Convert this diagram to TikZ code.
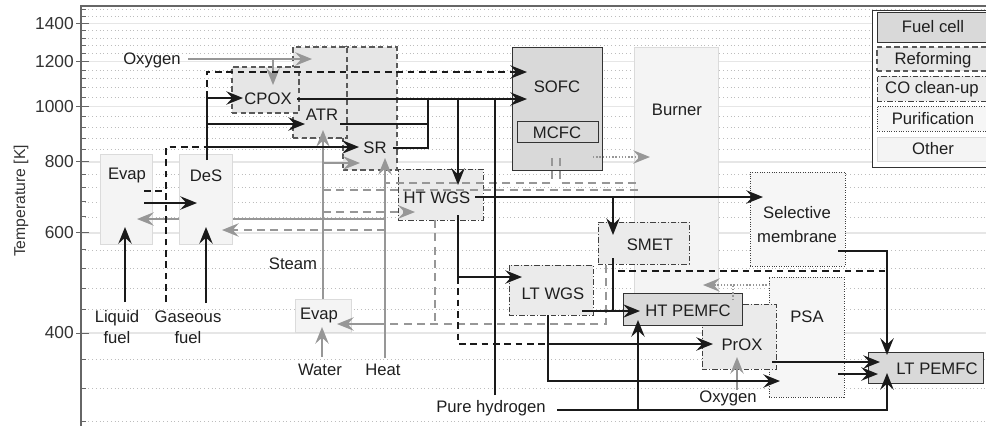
\documentclass[tikz,border=0pt]{standalone}
\usepackage{fontspec}
\setmainfont{Liberation Sans}
\usetikzlibrary{arrows.meta,calc}

\definecolor{fcgray}{HTML}{D9D9D9}
\definecolor{rfgray}{HTML}{E6E6E6}
\definecolor{cogray}{HTML}{EBEBEB}
\definecolor{pugray}{HTML}{F6F6F6}
\definecolor{otgray}{HTML}{F4F4F4}
\definecolor{linek}{HTML}{1A1A1A}
\definecolor{lineg}{HTML}{979797}
\definecolor{gridmaj}{HTML}{E6E6E6}
\definecolor{gridmin}{HTML}{BDBDBD}

\newcommand{\fs}{\fontsize{12.5}{16}\selectfont}
% box from (x1,y1) to (x2,y2), in pixels
\newcommand{\compbox}[6]{%
  \node[#1, minimum width={(#4-#2)*0.75pt}, minimum height={(#5-#3)*0.75pt}] (#6) at ({(#2+#4)/2},{(#3+#5)/2}) {};}

\begin{document}
\begin{tikzpicture}[x=0.75pt, y=-0.75pt,
  tip/.style={-{Stealth[length=12.5pt,width=10pt,inset=4.5pt]}},
  bl/.style={draw=linek, line width=1.6pt},
  bla/.style={bl, tip},
  bld/.style={bl, dash pattern=on 5pt off 3.5pt},
  blda/.style={bld, tip},
  gl/.style={draw=lineg, line width=1.6pt},
  gla/.style={gl, tip},
  gld/.style={gl, dash pattern=on 6pt off 4pt},
  glda/.style={gld, tip},
  glo/.style={gl, line width=1.3pt, dash pattern=on 1pt off 1.4pt},
  gloa/.style={glo, tip},
  fcell/.style={draw=black!80, fill=fcgray, line width=0.75pt, inner sep=0pt},
  reform/.style={draw=black!65, fill=rfgray, line width=0.8pt, dash pattern=on 4pt off 2.5pt, inner sep=0pt},
  cleanup/.style={draw=black!75, fill=cogray, line width=0.6pt, dash pattern=on 4pt off 1.5pt on 0.8pt off 1.5pt, inner sep=0pt},
  purif/.style={draw=black!75, fill=pugray, line width=0.6pt, dash pattern=on 0.6pt off 1.2pt, inner sep=0pt},
  other/.style={draw=black!14, fill=otgray, line width=0.75pt, inner sep=0pt},
  lab/.style={font=\fs, text=black!88, inner sep=0pt, align=center}]
\useasboundingbox (0,0) rectangle (986,426);
\clip (0,0) rectangle (986,426);

% axis and grid
\foreach \T in {280,320,360,440,480,520,560,640,680,720,760,840,880,920,960,1040,1080,1120,1160,1240,1280,1320,1360,1440,1480} {
  \pgfmathsetmacro\yy{333-247*ln(\T/400)}
  \draw[gridmin, line width=0.6pt, dash pattern=on 0.6pt off 2.2pt] (81,\yy) -- (986,\yy);
  \draw[black!60, line width=0.7pt] (81,\yy) -- (86,\yy);
}
\foreach \T in {400,600,800,1000,1200,1400} {
  \pgfmathsetmacro\yy{333-247*ln(\T/400)}
  \draw[gridmaj, line width=1.2pt] (81,\yy) -- (986,\yy);
  \draw[black!60, line width=0.7pt] (76,\yy) -- (89,\yy);
  \node[lab, font=\fontsize{13}{15}\selectfont, text=black!80, anchor=east] (tk\T) at (74,\yy) {\T};
}
\draw[black!60, line width=0.8pt] (81,426) -- (81,6) -- (986,6);
\node[rotate=90, font=\fontsize{11.8}{13}\selectfont, text=black!80] (ylab) at (21,201) {Temperature [K]};

% legend
\compbox{draw=black!80, fill=white, line width=0.75pt, inner sep=0pt}{872}{10}{995}{167}{legbox}
\compbox{fcell}{877}{12}{989}{42}{legfc}
\compbox{reform}{877}{47}{989}{71}{legrf}
\compbox{cleanup}{877}{76}{989}{101}{legco}
\compbox{purif}{877}{106}{989}{131}{legpu}
\compbox{other}{877}{137}{989}{161}{legot}
\node[lab] (legfct) at (933,27) {Fuel cell};
\node[lab] (legrft) at (933,60) {Reforming};
\node[lab] (legcot) at (932,89) {CO clean-up};
\node[lab] (legput) at (933,119) {Purification};
\node[lab] (legott) at (933,149) {Other};

% units
\compbox{other}{100}{154}{152}{244}{evapL}
\compbox{other}{179}{154}{232}{244}{des}
\compbox{reform}{343}{47}{397}{170}{srbox}
\compbox{reform}{293}{47}{347}{138}{atrbox}
\compbox{reform}{232}{67}{299}{113}{cpoxbox}
\compbox{cleanup}{398}{169}{483}{220}{htwgsbox}
\compbox{fcell}{512}{47}{602}{170}{sofcbox}
\compbox{fcell}{517}{121}{598}{142}{mcfcbox}
\compbox{other}{634}{47}{718}{296}{burnerbox}
\compbox{purif}{750}{172}{845}{266}{selbox}
\compbox{cleanup}{598}{222}{689}{264}{smetbox}
\compbox{cleanup}{509}{265}{593}{315}{ltwgsbox}
\compbox{purif}{769}{277}{844}{397}{psabox}
\compbox{cleanup}{702}{304}{776}{369}{proxbox}
\compbox{fcell}{623}{293}{742}{325}{htpembox}
\compbox{fcell}{868}{352}{983}{383}{ltpembox}
\compbox{other}{295}{299}{351}{332}{evapB}

\node[lab] (evapLt) at (127,175) {Evap};
\node[lab] (dest) at (206,176) {DeS};
\node[lab] (cpox) at (268,99) {CPOX};
\node[lab] (atr) at (322,115) {ATR};
\node[lab] (sr) at (375,148) {SR};
\node[lab] (htwgs) at (437,198) {HT WGS};
\node[lab] (sofc) at (557,87) {SOFC};
\node[lab] (mcfc) at (557,133) {MCFC};
\node[lab] (burner) at (677,110) {Burner};
\node[lab, font=\fontsize{12.5}{18}\selectfont] (sel) at (797,225) {Selective\\membrane};
\node[lab] (smet) at (650,245) {SMET};
\node[lab] (ltwgs) at (553,294) {LT WGS};
\node[lab] (psa) at (807,317) {PSA};
\node[lab] (prox) at (742,345) {PrOX};
\node[lab] (htpem) at (688,311) {HT PEMFC};
\node[lab] (ltpem) at (937,369) {LT PEMFC};
\node[lab] (evapBt) at (319,315) {Evap};

% feeds
\node[lab] (oxy1) at (152,60) {Oxygen};
\node[lab] (liq) at (117,327) {Liquid\\fuel};
\node[lab] (gas) at (188,327) {Gaseous\\fuel};
\node[lab] (steam) at (293,264) {Steam};
\node[lab] (water) at (320,370) {Water};
\node[lab] (heat) at (383,370) {Heat};
\node[lab] (pure) at (491,408) {Pure hydrogen};
\node[lab] (oxy2) at (728,398) {Oxygen};

% ports and joints
\coordinate (liq-o) at (125,302);
\coordinate (evapL-i) at (125,227);
\coordinate (gas-o) at (206,303);
\coordinate (des-i) at (206,227);
\coordinate (gasbyp) at (166,302);
\coordinate (evapL-o) at (144,203);
\coordinate (des-w) at (197,203);
\coordinate (evapL-d) at (144,191);
\coordinate (des-o) at (207,160);
\coordinate (cpox-i) at (243,98);
\coordinate (atr-i) at (305,124);
\coordinate (sr-i) at (359,147);
\coordinate (cpox-o) at (297,99);
\coordinate (atr-o) at (340,124);
\coordinate (sr-o) at (393,148);
\coordinate (refjoin) at (428,99);
\coordinate (sofc-i) at (527,99);
\coordinate (sofc-d) at (527,72);
\coordinate (htwgs-i) at (458,185);
\coordinate (htwgs-o) at (475,197);
\coordinate (htwgs-d) at (458,215);
\coordinate (sel-i) at (763,197);
\coordinate (smet-i) at (613,235);
\coordinate (smet-o) at (613,258);
\coordinate (ltwgs-i) at (522,277);
\coordinate (ltwgs-o) at (582,311);
\coordinate (ltwgs-d) at (548,315);
\coordinate (htpem-w) at (640,311);
\coordinate (htpem-s) at (638,320);
\coordinate (prox-i) at (713,344);
\coordinate (psa-i) at (780,381);
\coordinate (prox-o) at (772,362);
\coordinate (psa-o) at (838,374);
\coordinate (sel-o) at (838,251);
\coordinate (ltpem-n) at (887,355);
\coordinate (ltpem-s) at (887,373);
\coordinate (ltpem-w1) at (880,362);
\coordinate (ltpem-w2) at (878,374);
\coordinate (pure-o) at (557,410);
\coordinate (pure-n) at (495,395);
\coordinate (smetbyp) at (618,271);
\coordinate (oxy1-o) at (188,59);
\coordinate (refox-i) at (312,59);
\coordinate (cpoxox-i) at (273,85);
\coordinate (steam-o) at (323,299);
\coordinate (atr-s) at (323,130);
\coordinate (sr-w) at (360,163);
\coordinate (heat-o) at (385,358);
\coordinate (sr-s) at (385,158);
\coordinate (evapL-h) at (137,219);
\coordinate (des-h) at (222,230);
\coordinate (evapB-e) at (337,324);
\coordinate (water-o) at (322,357);
\coordinate (evapB-s) at (322,327);
\coordinate (htwgs-s) at (415,212);
\coordinate (sofc-s1) at (552,158);
\coordinate (sofc-s2) at (560,158);
\coordinate (burner-x) at (639,183);
\coordinate (htwgs-b) at (435,220);
\coordinate (smet-b) at (606,265);
\coordinate (mcfc-o) at (593,157);
\coordinate (burner-i) at (650,157);
\coordinate (psa-g) at (770,285);
\coordinate (burner-g) at (703,285);
\coordinate (prox-g) at (733,300);
\coordinate (prox-oxy) at (737,357);
\coordinate (oxy2-o) at (737,390);

% gray: oxygen, steam, heat, water
\draw[gla] (oxy1-o) -- (refox-i);
\draw[gla] (oxy1-o -| cpoxox-i) -- (cpoxox-i);
\draw[gla] (steam-o) -- (atr-s);
\draw[gla] (steam-o |- sr-w) -- (sr-w);
\draw[gla] (heat-o) -- (sr-s);
\draw[gl] (heat-o |- evapL-h) -- (des.east |- evapL-h);
\draw[gla] (des.west |- evapL-h) -- (evapL-h);
\draw[gla] (heat-o |- evapB-e) -- (evapB-e);
\draw[gla] (water-o) -- (evapB-s);
\draw[gla] (prox-oxy |- oxy2-o) -- (prox-oxy);

% gray dashed: heat recovery
\draw[glda] (heat-o |- des-h) -- (des-h);
\draw[glda] (steam-o |- htwgs-s) -- (htwgs-s);
\draw[gld] (sofc-s1) |- (heat-o |- burner-x);
\draw[gld] (sofc-s2) |- (burner-x);
\draw[gld] ($(steam-o |- burner-x)+(0,7)$) -- ($(burner-x)+(0,7)$);
\draw[gld] (htwgs-b) -- (htwgs-b |- evapB-e);
\draw[gld] (smet-b) |- (heat-o |- evapB-e);

% gray dotted: off-gas to burner
\draw[gloa] (mcfc-o) -- (burner-i);
\draw[gloa] (psa-g) -- (burner-g);
\draw[glo] (prox-g) -- (prox-g |- psa-g);

% black dashed: bypasses
\draw[bld] (gasbyp) |- (des-o |- sr-i);
\draw[bld] (evapL-d) -- (gasbyp |- evapL-d);
\draw[blda] (des-o |- cpox-i) |- (sofc-d);
\draw[bld] (htwgs-d |- ltwgs-i) |- (ltwgs-d |- prox-i);
\draw[bld] (smetbyp) -- (ltpem-n |- smetbyp);

% black: main fuel path
\draw[bla] (liq-o) -- (evapL-i);
\draw[bla] (gas-o) -- (des-i);
\draw[bla] (evapL-o) -- (des-w);
\draw[bl] (des-o) -- (des-o |- cpox-i);
\draw[bla] (des-o |- cpox-i) -- (cpox-i);
\draw[bla] (des-o |- atr-i) -- (atr-i);
\draw[bla] (des-o |- sr-i) -- (sr-i);
\draw[bla] (cpox-o) -- (sofc-i);
\draw[bl] (atr-o) -| (refjoin);
\draw[bl] (sr-o) -| (refjoin |- atr-o);
\draw[bla] (htwgs-i |- sofc-i) -- (htwgs-i);
\draw[bl] (pure-n) -- (pure-n |- sofc-i);
\draw[bla] (htwgs-o) -- (sel-i);
\draw[bla] (smet-i |- sel-i) -- (smet-i);
\draw[bl] (smet-o) -- (smet-o |- htpem-w);
\draw[bla] (ltwgs-o) -- (htpem-w);
\draw[bla] (htwgs-d) |- (ltwgs-i);
\draw[bla] (ltwgs-d) |- (psa-i);
\draw[bla] (ltwgs-d |- prox-i) -- (prox-i);
\draw[bla] (pure-o) -| (ltpem-s);
\draw[bla] (htpem-s |- pure-o) -- (htpem-s);
\draw[bla] (sel-o) -| (ltpem-n);
\draw[bla] (prox-o) -- (ltpem-w1);
\draw[bla] (psa-o) -- (ltpem-w2);
\end{tikzpicture}
\end{document}
